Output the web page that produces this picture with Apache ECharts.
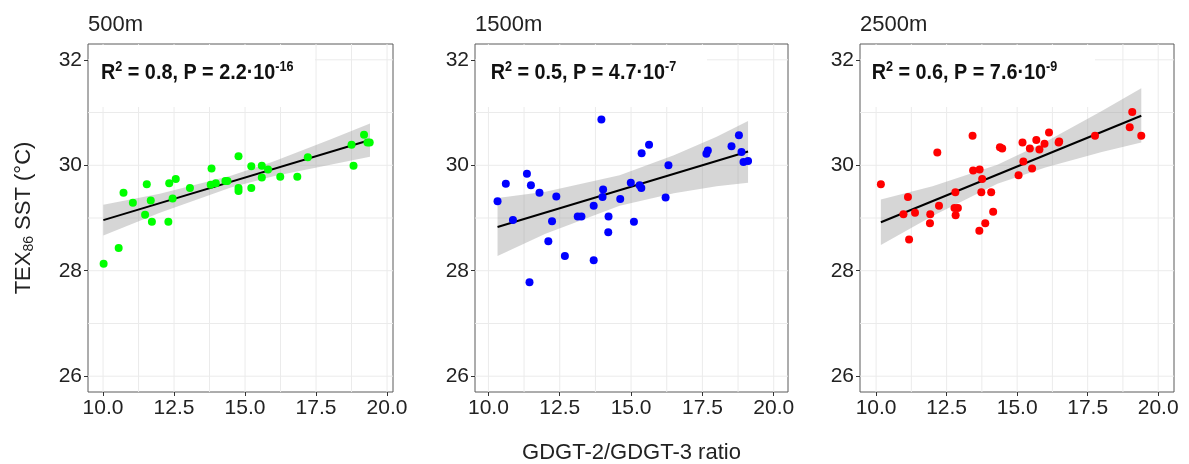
<!DOCTYPE html>
<html style="height: 100%">
<head>
    <meta charset="utf-8">
    <title>TEX86 SST vs GDGT-2/GDGT-3 ratio</title>
</head>
<body style="height: 100%; margin: 0; background: #fff;">
<div id="container" style="width: 1189px; height: 464px"></div>
<script src="https://cdn.jsdelivr.net/npm/echarts@6/dist/echarts.min.js"></script>
<script type="text/javascript">

    var depths = ['500m', '1500m', '2500m'];
    var dotColors = ['#00ff00', '#0000ff', '#ff0000'];
    var r2Values = ['0.8', '0.5', '0.6'];
    var pMantissa = ['2.2', '4.7', '7.6'];
    var pExponent = ['-16', '-7', '-9'];

    var xTicks = [10, 12.5, 15, 17.5, 20];
    var xMinorTicks = [11.25, 13.75, 16.25, 18.75];
    var yTicks = [26, 28, 30, 32];
    var yMinorTicks = [27, 29, 31];

    // [GDGT-2/GDGT-3 ratio, TEX86 SST]
    var points500 = [
        [10.02, 28.13], [10.55, 28.43], [10.72, 29.48], [11.05, 29.29], [11.48, 29.06],
        [11.54, 29.64], [11.68, 29.33], [11.72, 28.93], [12.30, 28.93], [12.33, 29.66],
        [12.45, 29.37], [12.56, 29.74], [13.06, 29.57], [13.82, 29.94], [13.79, 29.63],
        [13.97, 29.66], [14.31, 29.70], [14.38, 29.70], [14.77, 30.17], [14.77, 29.57],
        [14.77, 29.51], [15.22, 29.98], [15.22, 29.57], [15.59, 29.99], [15.59, 29.77],
        [15.81, 29.92], [16.24, 29.78], [16.84, 29.78], [17.21, 30.15], [18.75, 30.39],
        [18.82, 29.99], [19.19, 30.58], [19.31, 30.43], [19.39, 30.43]
    ];
    var points1500 = [
        [10.32, 29.32], [10.61, 29.65], [10.86, 28.96], [11.35, 29.84], [11.49, 29.62],
        [11.44, 27.78], [11.79, 29.48], [12.10, 28.56], [12.23, 28.94], [12.38, 29.41],
        [12.68, 28.28], [13.13, 29.03], [13.26, 29.03], [13.69, 28.20], [13.69, 29.23],
        [13.96, 30.87], [14.02, 29.54], [14.00, 29.40], [14.21, 29.03], [14.20, 28.73],
        [14.62, 29.36], [14.99, 29.67], [15.10, 28.93], [15.30, 29.62], [15.36, 29.57],
        [15.37, 30.23], [15.63, 30.39], [16.21, 29.39], [16.31, 30.00], [17.64, 30.22],
        [17.69, 30.28], [18.52, 30.36], [18.78, 30.57], [18.87, 30.25], [18.94, 30.06],
        [19.10, 30.08]
    ];
    var points2500 = [
        [10.17, 29.64], [10.97, 29.07], [11.13, 29.40], [11.17, 28.59], [11.38, 29.10],
        [11.92, 29.07], [11.91, 28.90], [12.17, 30.24], [12.23, 29.23], [12.81, 29.49],
        [12.78, 29.19], [12.90, 29.19], [12.82, 29.05], [13.42, 30.56], [13.44, 29.90],
        [13.67, 29.92], [13.76, 29.74], [13.73, 29.49], [13.66, 28.76], [13.87, 28.90],
        [14.08, 29.49], [14.15, 29.12], [14.39, 30.34], [14.47, 30.32], [15.05, 29.81],
        [15.19, 30.43], [15.22, 30.07], [15.45, 30.32], [15.53, 29.94], [15.68, 30.48],
        [15.79, 30.30], [15.97, 30.41], [16.13, 30.62], [16.47, 30.43], [16.49, 30.45],
        [17.76, 30.56], [18.99, 30.72], [19.08, 31.01], [19.40, 30.56]
    ];

    // fitted line ends
    var fit500 = [[10.01, 28.96], [19.40, 30.48]];
    var fit1500 = [[10.32, 28.83], [19.10, 30.26]];
    var fit2500 = [[10.17, 28.92], [19.40, 30.94]];

    // confidence band: [x, lower, upper]
    var band500 = [
        [10.01, 28.67, 29.25], [12.0, 29.10, 29.46], [14.5, 29.58, 29.80],
        [16.0, 29.79, 30.07], [18.0, 30.01, 30.49], [19.40, 30.16, 30.79]
    ];
    var band1500 = [
        [10.32, 28.28, 29.38], [12.0, 28.70, 29.50], [14.6, 29.23, 29.81],
        [16.5, 29.47, 30.19], [18.0, 29.60, 30.54], [19.10, 29.67, 30.84]
    ];
    var band2500 = [
        [10.17, 28.49, 29.35], [12.0, 29.04, 29.60], [14.3, 29.65, 30.01],
        [16.0, 29.96, 30.44], [18.0, 30.25, 31.03], [19.40, 30.43, 31.46]
    ];

    var panelPoints = [points500, points1500, points2500];
    var panelFits = [fit500, fit1500, fit2500];
    var panelBands = [band500, band1500, band2500];

    var gridBoxes = [
        {left: 88, top: 44, width: 305, height: 348},
        {left: 475, top: 44, width: 313, height: 348},
        {left: 860, top: 44, width: 314, height: 348}
    ];
    var xRanges = [[9.47, 20.21], [9.53, 20.5], [9.43, 20.56]];
    var yRange = [25.7, 32.3];
    var boxWidths = [226, 231, 234];
    var labelX = [101, 490.7, 871.7];

    var fontFam = '"Liberation Sans", Arial, sans-serif';
    var textColor = '#222';
    var gridColor = '#ebebeb';

    var dom = document.getElementById('container');
    var myChart = echarts.init(dom);

    function renderVGrid(params, api) {
        var cs = params.coordSys;
        var px = api.coord([api.value(0), api.value(1)])[0];
        return {
            type: 'line',
            shape: {x1: px, y1: cs.y, x2: px, y2: cs.y + cs.height},
            style: {stroke: gridColor, lineWidth: 1},
            silent: true
        };
    }

    function renderHGrid(params, api) {
        var cs = params.coordSys;
        var py = api.coord([api.value(0), api.value(1)])[1];
        return {
            type: 'line',
            shape: {x1: cs.x, y1: py, x2: cs.x + cs.width, y2: py},
            style: {stroke: gridColor, lineWidth: 1},
            silent: true
        };
    }

    function makeBandRenderer(rows) {
        return function (params, api) {
            if (params.dataIndex !== 0) {
                return null;
            }
            var pts = [];
            for (var i = 0; i < rows.length; i++) {
                pts.push(api.coord([rows[i][0], rows[i][2]]));
            }
            for (var j = rows.length - 1; j >= 0; j--) {
                pts.push(api.coord([rows[j][0], rows[j][1]]));
            }
            return {
                type: 'polygon',
                shape: {points: pts},
                style: {fill: 'rgba(153,153,153,0.4)'},
                silent: true
            };
        };
    }

    var grids = [], xAxes = [], yAxes = [], series = [], titles = [], graphics = [];

    for (var i = 0; i < 3; i++) {
        grids.push({
            left: gridBoxes[i].left, top: gridBoxes[i].top,
            width: gridBoxes[i].width, height: gridBoxes[i].height,
            outerBoundsMode: 'none',
            show: true, borderColor: '#5a5a5a', borderWidth: 1,
            backgroundColor: 'transparent'
        });

        xAxes.push({
            gridIndex: i, type: 'value',
            min: xRanges[i][0], max: xRanges[i][1],
            axisLine: {show: false},
            splitLine: {show: false},
            axisTick: {show: true, length: 4, customValues: xTicks, lineStyle: {color: '#333'}},
            axisLabel: {
                customValues: xTicks,
                formatter: function (v) { return v.toFixed(1); },
                fontSize: 21, color: textColor, margin: 6, fontFamily: fontFam
            },
            name: i === 1 ? 'GDGT-2/GDGT-3 ratio' : '',
            nameLocation: 'middle', nameGap: 50,
            nameTextStyle: {fontSize: 22, color: textColor, fontFamily: fontFam}
        });

        yAxes.push({
            gridIndex: i, type: 'value',
            min: yRange[0], max: yRange[1],
            axisLine: {show: false},
            splitLine: {show: false},
            axisTick: {show: true, length: 4, customValues: yTicks, lineStyle: {color: '#333'}},
            axisLabel: {
                customValues: yTicks,
                fontSize: 21, color: textColor, margin: 6, fontFamily: fontFam
            },
            name: i === 0 ? '{a|TEX}{b|86}{a| SST (°C)}' : '',
            nameLocation: 'middle', nameRotate: 90, nameGap: 52,
            nameTextStyle: {
                color: textColor, fontFamily: fontFam,
                rich: {
                    a: {fontSize: 22, color: textColor, fontFamily: fontFam, lineHeight: 24},
                    b: {fontSize: 14, color: textColor, fontFamily: fontFam, verticalAlign: 'bottom', lineHeight: 14}
                }
            }
        });

        var allX = xTicks.concat(xMinorTicks);
        var allY = yTicks.concat(yMinorTicks);

        series.push({
            type: 'custom', xAxisIndex: i, yAxisIndex: i, z: 0, silent: true,
            clip: false,
            renderItem: renderVGrid,
            data: allX.map(function (v) { return [v, 29]; })
        });
        series.push({
            type: 'custom', xAxisIndex: i, yAxisIndex: i, z: 0, silent: true,
            clip: false,
            renderItem: renderHGrid,
            data: allY.map(function (v) { return [15, v]; })
        });
        series.push({
            type: 'custom', xAxisIndex: i, yAxisIndex: i, z: 2, silent: true,
            renderItem: makeBandRenderer(panelBands[i]),
            encode: {x: 0, y: [1, 2]},
            data: panelBands[i]
        });
        series.push({
            type: 'line', xAxisIndex: i, yAxisIndex: i, z: 3, silent: true,
            showSymbol: false,
            lineStyle: {color: '#000', width: 2},
            data: panelFits[i]
        });
        series.push({
            type: 'scatter', xAxisIndex: i, yAxisIndex: i, z: 4,
            symbolSize: 8,
            itemStyle: {color: dotColors[i], opacity: 1},
            data: panelPoints[i]
        });

        titles.push({
            text: depths[i],
            left: gridBoxes[i].left, top: 14, padding: 0,
            textStyle: {fontSize: 22, fontWeight: 'normal', color: textColor, fontFamily: fontFam}
        });

        graphics.push({
            type: 'rect', z: 1, silent: true,
            shape: {x: gridBoxes[i].left + 1, y: gridBoxes[i].top + 1, width: boxWidths[i], height: 62},
            style: {fill: '#fff'}
        });
        graphics.push({
            type: 'text', z: 10, silent: true,
            x: labelX[i], y: 60.5, scaleX: 0.9, scaleY: 1, originX: 0, originY: 0,
            style: {
                text: '{m|R}{s|2}{m| = ' + r2Values[i] + ', P = ' + pMantissa[i] + '·10}{s|' + pExponent[i] + '}',
                verticalAlign: 'top',
                align: 'left',
                rich: {
                    m: {fontSize: 22, fontWeight: 'bold', fontFamily: fontFam, fill: '#111', lineHeight: 24},
                    s: {fontSize: 14, fontWeight: 'bold', fontFamily: fontFam, fill: '#111', lineHeight: 14, verticalAlign: 'top'}
                }
            }
        });
    }

    var option = {
        animation: false,
        backgroundColor: '#fff',
        title: titles,
        grid: grids,
        xAxis: xAxes,
        yAxis: yAxes,
        graphic: {elements: graphics},
        series: series
    };

    myChart.setOption(option, true);

</script>
</body>
</html>
